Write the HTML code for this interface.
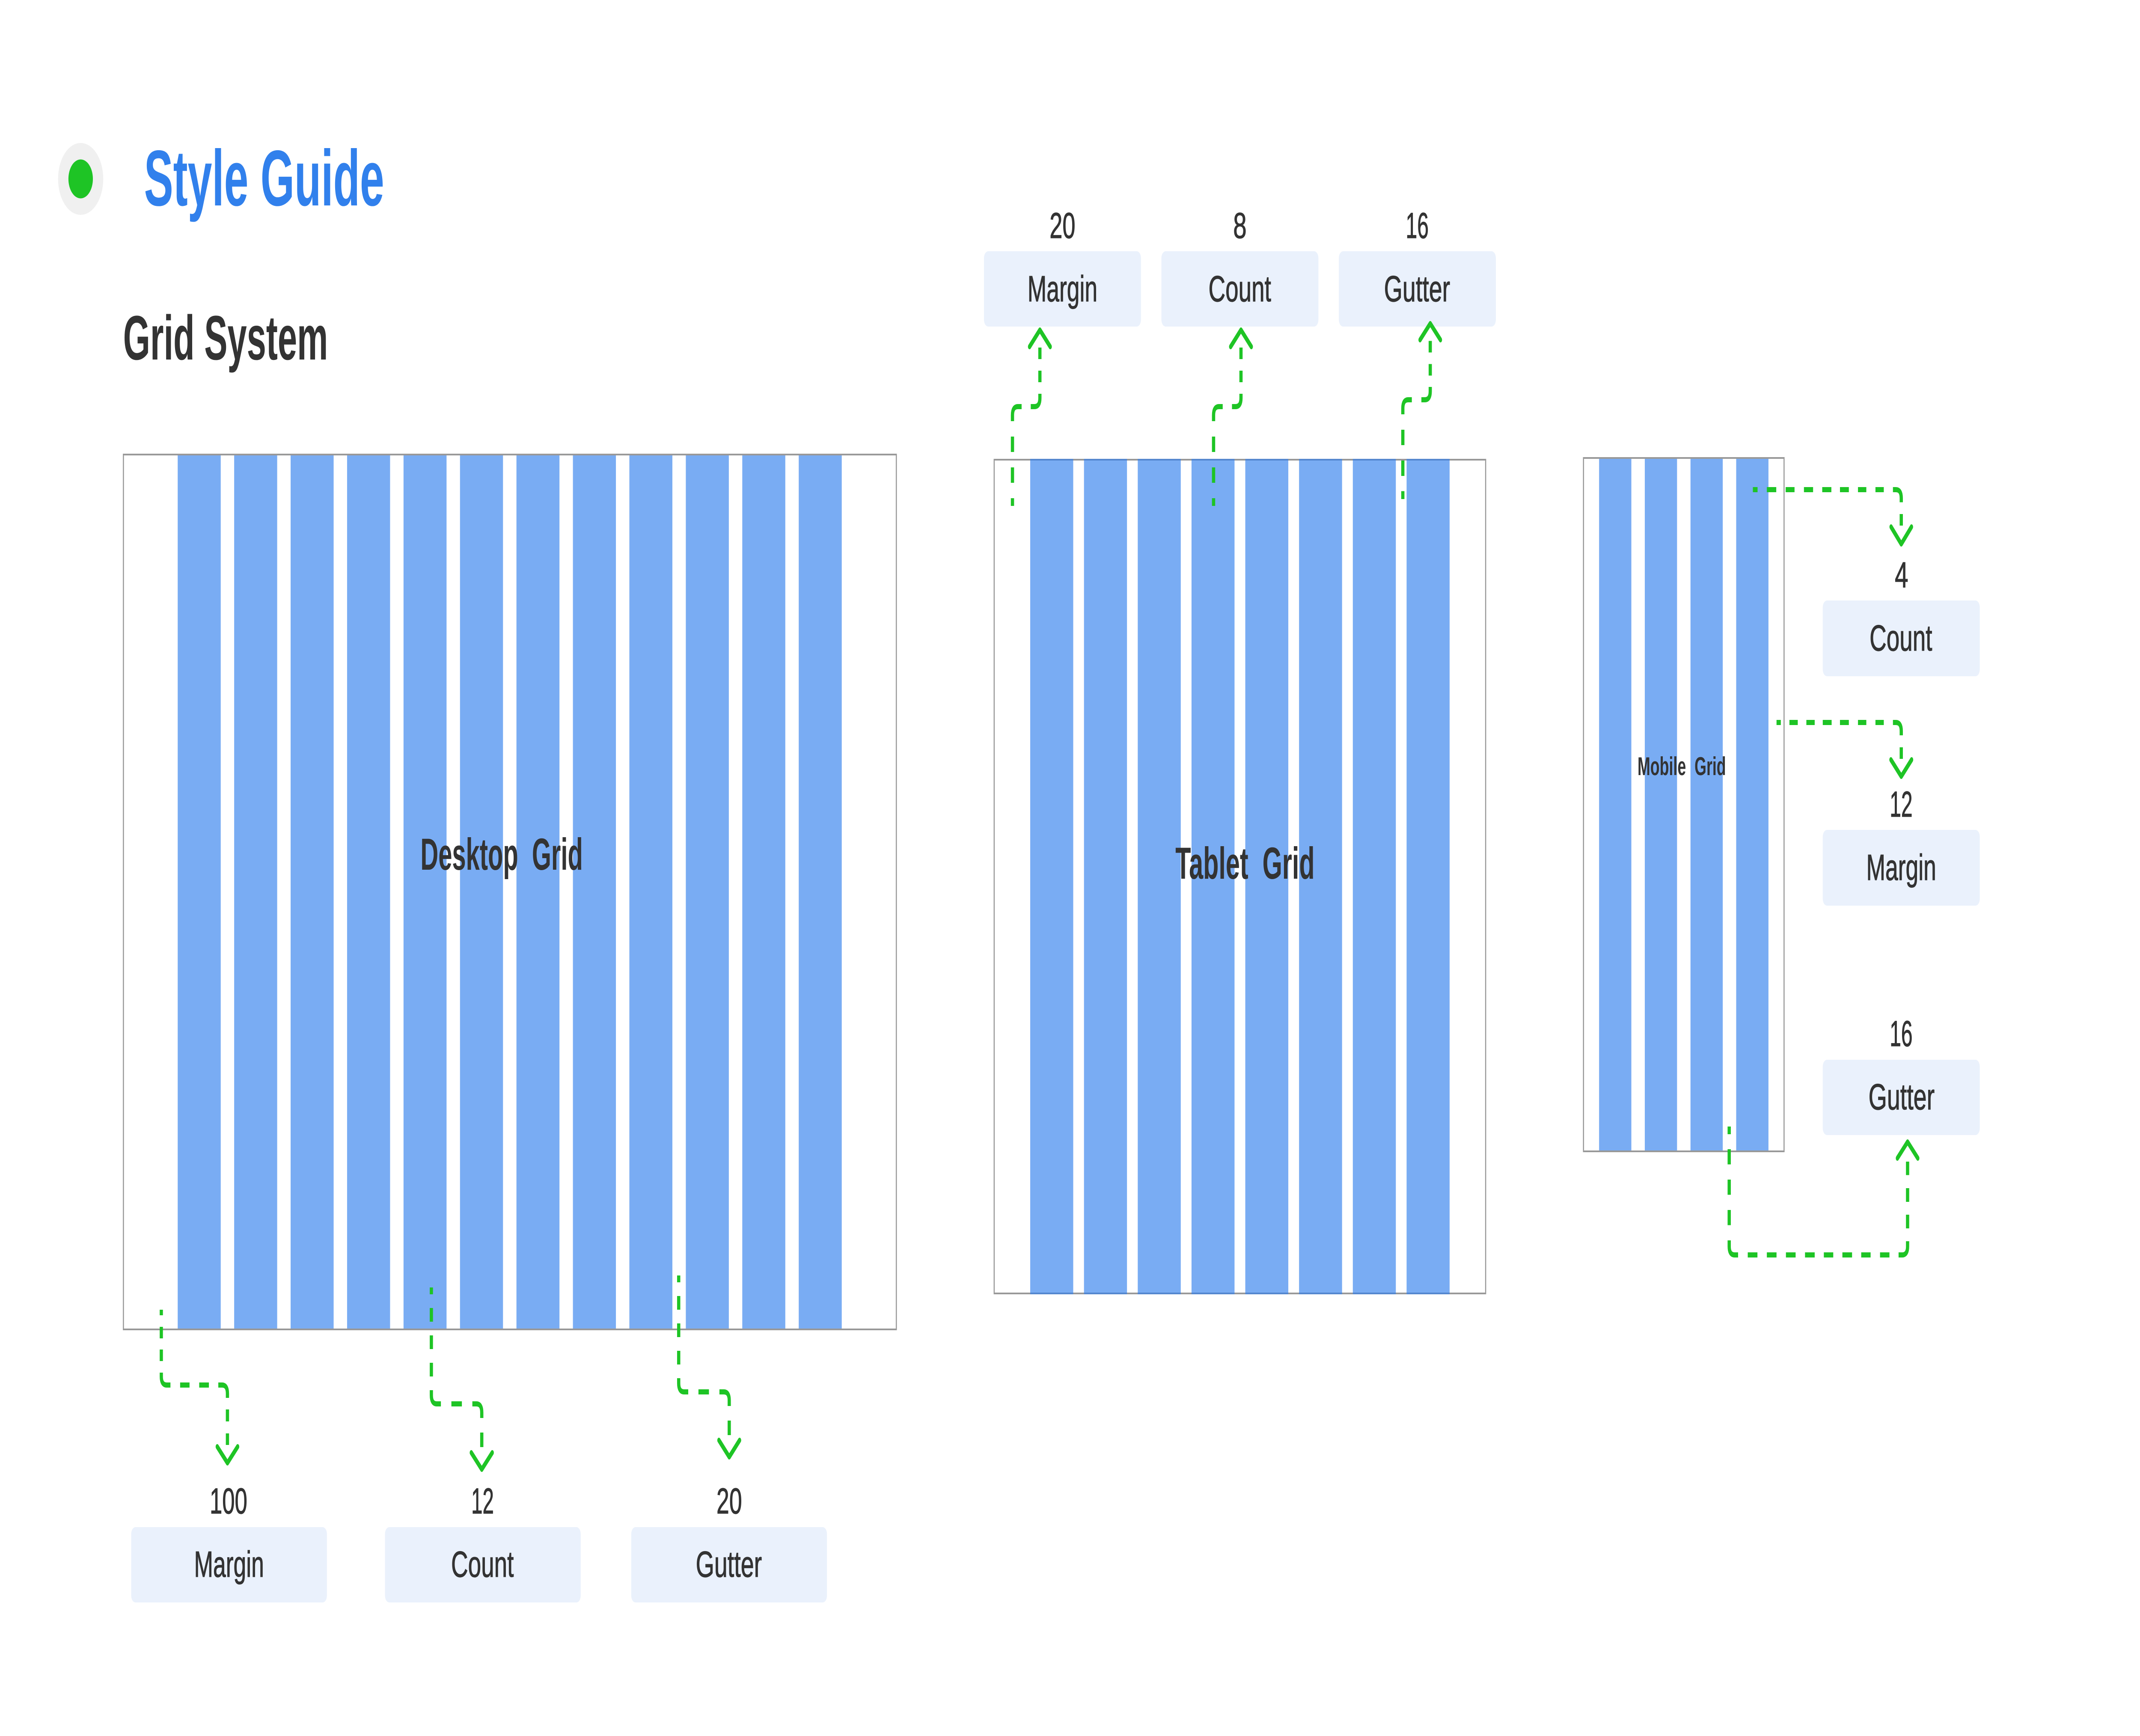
<!DOCTYPE html>
<html>
<head>
<meta charset="utf-8">
<title>Style Guide</title>
<style>
html,body{margin:0;padding:0;background:#fff;width:100%;height:100%;overflow:hidden}
svg{display:block;width:100vw;height:100vh}
text{font-family:"Liberation Sans",sans-serif;white-space:pre}
.n{font-size:84px;fill:#333;stroke:#333;stroke-width:1.2px}
.l{font-size:85px;fill:#333;stroke:#333;stroke-width:1.2px}
.b{font-weight:bold;fill:#333}
.c{fill:#3180EC;opacity:.65}
.f{fill:#fff;stroke:#999;stroke-width:4}
.d{fill:none;stroke:#1EC425;stroke-width:12}
.a{fill:none;stroke:#1EC425;stroke-width:12;stroke-linecap:round;stroke-linejoin:round}
.x{fill:#EAF1FC}
</style>
</head>
<body>
<svg xmlns="http://www.w3.org/2000/svg" viewBox="0 0 7960 4056" preserveAspectRatio="none">
<rect width="7960" height="4056" fill="#fff"/>

<!-- header -->
<circle cx="300" cy="418" r="84" fill="#F0F0F0"/>
<circle cx="300" cy="418" r="45.5" fill="#1EC425"/>
<text x="536" y="480" font-size="185" font-weight="bold" fill="#3180EC" textLength="893" lengthAdjust="spacingAndGlyphs">Style Guide</text>
<text x="458" y="840" font-size="147" class="b" textLength="762" lengthAdjust="spacingAndGlyphs">Grid System</text>

<!-- desktop grid -->
<rect class="f" x="459" y="1062" width="2875" height="2044"/>
<rect class="c" x="661" y="1064" width="160" height="2040"/>
<rect class="c" x="871" y="1064" width="160" height="2040"/>
<rect class="c" x="1081" y="1064" width="160" height="2040"/>
<rect class="c" x="1291" y="1064" width="160" height="2040"/>
<rect class="c" x="1501" y="1064" width="160" height="2040"/>
<rect class="c" x="1711" y="1064" width="160" height="2040"/>
<rect class="c" x="1921" y="1064" width="160" height="2040"/>
<rect class="c" x="2131" y="1064" width="160" height="2040"/>
<rect class="c" x="2341" y="1064" width="160" height="2040"/>
<rect class="c" x="2551" y="1064" width="160" height="2040"/>
<rect class="c" x="2761" y="1064" width="160" height="2040"/>
<rect class="c" x="2971" y="1064" width="160" height="2040"/>
<text x="1564" y="2032" font-size="105" class="b" textLength="604" lengthAdjust="spacingAndGlyphs">Desktop  Grid</text>

<!-- tablet grid -->
<rect class="f" x="3698" y="1074" width="1828" height="1948"/>
<rect class="c" x="3832" y="1072" width="160" height="1952"/>
<rect class="c" x="4032" y="1072" width="160" height="1952"/>
<rect class="c" x="4232" y="1072" width="160" height="1952"/>
<rect class="c" x="4432" y="1072" width="160" height="1952"/>
<rect class="c" x="4632" y="1072" width="160" height="1952"/>
<rect class="c" x="4832" y="1072" width="160" height="1952"/>
<rect class="c" x="5032" y="1072" width="160" height="1952"/>
<rect class="c" x="5232" y="1072" width="160" height="1952"/>
<text x="4372" y="2053" font-size="105" class="b" textLength="518" lengthAdjust="spacingAndGlyphs">Tablet  Grid</text>

<!-- mobile grid -->
<rect class="f" x="5890" y="1070" width="746" height="1620"/>
<rect class="c" x="5948" y="1072" width="120" height="1616"/>
<rect class="c" x="6118" y="1072" width="120" height="1616"/>
<rect class="c" x="6288" y="1072" width="120" height="1616"/>
<rect class="c" x="6458" y="1072" width="120" height="1616"/>
<text x="6091" y="1811" font-size="60" class="b" textLength="329" lengthAdjust="spacingAndGlyphs">Mobile  Grid</text>

<!-- desktop boxes -->
<rect class="x" x="488" y="3568" width="728" height="176" rx="16"/>
<rect class="x" x="1432" y="3568" width="728" height="176" rx="16"/>
<rect class="x" x="2348" y="3568" width="728" height="176" rx="16"/>
<text class="n" x="780" y="3536" textLength="140" lengthAdjust="spacingAndGlyphs">100</text>
<text class="n" x="1753" y="3536" textLength="84" lengthAdjust="spacingAndGlyphs">12</text>
<text class="n" x="2665" y="3536" textLength="95" lengthAdjust="spacingAndGlyphs">20</text>
<text class="l" x="722" y="3684" textLength="260" lengthAdjust="spacingAndGlyphs">Margin</text>
<text class="l" x="1678" y="3684" textLength="233" lengthAdjust="spacingAndGlyphs">Count</text>
<text class="l" x="2588" y="3684" textLength="246" lengthAdjust="spacingAndGlyphs">Gutter</text>

<!-- tablet boxes -->
<rect class="x" x="3660" y="587" width="584" height="176" rx="16"/>
<rect class="x" x="4320" y="587" width="584" height="176" rx="16"/>
<rect class="x" x="4980" y="587" width="584" height="176" rx="16"/>
<text class="n" x="3904" y="556" textLength="96" lengthAdjust="spacingAndGlyphs">20</text>
<text class="n" x="4587" y="556" textLength="50" lengthAdjust="spacingAndGlyphs">8</text>
<text class="n" x="5229" y="556" textLength="85" lengthAdjust="spacingAndGlyphs">16</text>
<text class="l" x="3822" y="704" textLength="260" lengthAdjust="spacingAndGlyphs">Margin</text>
<text class="l" x="4495" y="704" textLength="233" lengthAdjust="spacingAndGlyphs">Count</text>
<text class="l" x="5148" y="704" textLength="246" lengthAdjust="spacingAndGlyphs">Gutter</text>

<!-- mobile boxes -->
<rect class="x" x="6780" y="1403" width="584" height="177" rx="16"/>
<rect class="x" x="6780" y="1939" width="584" height="177" rx="16"/>
<rect class="x" x="6780" y="2476" width="584" height="176" rx="16"/>
<text class="n" x="7048" y="1372" textLength="50" lengthAdjust="spacingAndGlyphs">4</text>
<text class="n" x="7029" y="1908" textLength="85" lengthAdjust="spacingAndGlyphs">12</text>
<text class="n" x="7029" y="2444" textLength="85" lengthAdjust="spacingAndGlyphs">16</text>
<text class="l" x="6954" y="1520" textLength="233" lengthAdjust="spacingAndGlyphs">Count</text>
<text class="l" x="6942" y="2056" textLength="260" lengthAdjust="spacingAndGlyphs">Margin</text>
<text class="l" x="6950" y="2592" textLength="246" lengthAdjust="spacingAndGlyphs">Gutter</text>

<!-- desktop connectors -->
<path class="d" d="M600 3060V3073M600 3100V3127M600 3153V3180M600 3207V3216Q600 3236 620 3236H634M670 3236H705M741 3236H777M812 3236H826Q846 3236 846 3256V3266M846 3293V3321M846 3349V3376"/>
<path class="a" d="M808 3380L846 3418L884 3380"/>
<path class="d" d="M1604.5 3008V3024M1604.5 3056V3088M1604.5 3120V3152M1604.5 3184V3216M1604.5 3248V3260Q1604.5 3280 1624.5 3280H1640M1679 3280H1718M1757 3280H1772Q1792 3280 1792 3300V3313M1792 3347V3381"/>
<path class="a" d="M1753 3394L1792 3433L1831 3394"/>
<path class="d" d="M2524.5 2980V2996M2524.5 3028V3060M2524.5 3092V3124M2524.5 3156V3188M2524.5 3220V3232Q2524.5 3252 2544.5 3252H2560M2598 3252H2637M2676 3252H2692.5Q2712.5 3252 2712.5 3272V3285M2712.5 3319V3353"/>
<path class="a" d="M2674 3365L2712.5 3404L2751 3365"/>

<!-- tablet connectors -->
<path class="d" d="M3766 1182V1164M3766 1128V1092M3766 1056V1020M3766 984V970Q3766 950 3786 950H3800M3834 950H3848Q3868 950 3868 930V920M3868 893V866M3868 839V812"/>
<path class="a" d="M3829.5 810L3868 771L3906.5 810"/>
<path class="d" d="M4514 1182V1164M4514 1128V1092M4514 1056V1020M4514 984V970Q4514 950 4534 950H4548M4582.5 950H4596Q4616 950 4616 930V920M4616 893V866M4616 839V812"/>
<path class="a" d="M4577.5 810L4616 771L4654.5 810"/>
<path class="d" d="M5218 1166V1147.5M5218 1112V1076M5218 1040V1004M5218 968V954Q5218 934 5238 934H5251.5M5287 934H5300Q5320 934 5320 914V904M5320 877.5V850.5M5320 823.5V796.5"/>
<path class="a" d="M5282 794L5320 756L5358 794"/>

<!-- mobile connectors -->
<path class="d" d="M6520 1144H6537.5M6572 1144H6607M6642 1144H6675M6710 1144H6744M6778 1144H6812M6844 1144H6877M6911 1144H6942M6976 1144H7007M7041 1144H7052Q7072 1144 7072 1164V1173.5M7072 1201V1228"/>
<path class="a" d="M7034 1231L7072 1271L7110 1231"/>
<path class="d" d="M6608 1688H6624M6656 1688H6687M6719 1688H6750M6780 1688H6813M6844 1688H6877M6911 1688H6942M6976 1688H7007M7041 1688H7052Q7072 1688 7072 1708V1718M7072 1746V1773"/>
<path class="a" d="M7033.5 1775L7072 1814L7110.5 1775"/>
<path class="d" d="M6432 2632V2650M6432 2685V2720.5M6432 2756V2791.5M6432 2827V2862.5M6432 2898V2912Q6432 2932 6452 2932H6465M6501 2932H6537M6572 2932H6608M6643 2932H6679M6714 2932H6750M6784 2932H6819M6853 2932H6889M6923 2932H6958M6993 2932H7028M7062 2932H7075.5Q7095.5 2932 7095.5 2912V2900M7095.5 2870V2838M7095.5 2808V2776M7095.5 2745.5V2714"/>
<path class="a" d="M7057.5 2706L7095.5 2668L7133.5 2706"/>
</svg>
</body>
</html>
